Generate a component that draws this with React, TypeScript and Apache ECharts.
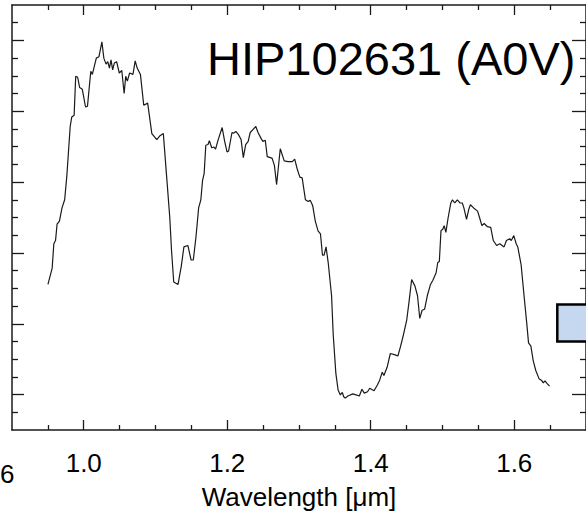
import React, { useEffect, useRef } from "react";
import * as echarts from "echarts";

const titleText = "HIP102631 (A0V)";
const xName = "Wavelength [μm]";
const prevPanelLabel = "6";
const xMajorTicks = [1.0, 1.2, 1.4, 1.6];
const xMinorTicks = [0.95, 1.05, 1.1, 1.15, 1.25, 1.3, 1.35, 1.45, 1.5, 1.55, 1.65];
const yMajorTicks = [0.2, 0.4, 0.6, 0.8, 1.0, 1.2];
const yMinorTicks = [0.15, 0.25, 0.3, 0.35, 0.45, 0.5, 0.55, 0.65, 0.7, 0.75, 0.85, 0.9, 0.95, 1.05, 1.1, 1.15, 1.25];

const wavelength = [
  0.9501, 0.956, 0.9583, 0.9607, 0.9628, 0.9661, 0.9697, 0.9734, 0.9765, 0.9811,
  0.9833, 0.9866, 0.9888, 0.9915, 0.9943, 0.998, 1.0025, 1.0052, 1.0098, 1.012,
  1.0175, 1.0212, 1.0253, 1.028, 1.0311, 1.0335, 1.0358, 1.038, 1.0403, 1.0426,
  1.0458, 1.0495, 1.053, 1.0563, 1.0585, 1.0608, 1.0639, 1.0686, 1.0717, 1.0745,
  1.079, 1.0836, 1.0891, 1.0949, 1.1018, 1.1063, 1.1109, 1.1154, 1.1199, 1.1223,
  1.1254, 1.1314, 1.1359, 1.1396, 1.1451, 1.1496, 1.1527, 1.1564, 1.1601, 1.1632,
  1.1656, 1.1678, 1.1701, 1.1732, 1.1751, 1.1783, 1.1814, 1.1837, 1.1874, 1.1929,
  1.1964, 1.1997, 1.2019, 1.2066, 1.2087, 1.212, 1.2156, 1.2193, 1.2224, 1.2257,
  1.2292, 1.232, 1.2361, 1.2398, 1.2429, 1.2475, 1.2497, 1.253, 1.2557, 1.2602,
  1.2626, 1.2657, 1.2688, 1.2739, 1.2794, 1.2848, 1.2907, 1.294, 1.2975, 1.3012,
  1.3044, 1.309, 1.3128, 1.3156, 1.319, 1.3227, 1.3265, 1.3299, 1.3327, 1.335,
  1.3377, 1.3408, 1.3454, 1.3477, 1.3514, 1.3545, 1.3576, 1.3604, 1.3623, 1.3645,
  1.3682, 1.375, 1.3795, 1.3841, 1.3877, 1.391, 1.3955, 1.3986, 1.4046, 1.4092,
  1.4123, 1.416, 1.4183, 1.4228, 1.4273, 1.4341, 1.4378, 1.441, 1.4456, 1.4501,
  1.4533, 1.457, 1.4615, 1.4652, 1.4683, 1.4716, 1.4751, 1.4788, 1.4833, 1.4866,
  1.4911, 1.4934, 1.4956, 1.4979, 1.5003, 1.5024, 1.5047, 1.5079, 1.5116, 1.5139,
  1.5171, 1.5207, 1.5243, 1.5276, 1.5298, 1.5335, 1.5366, 1.5389, 1.5434, 1.5489,
  1.5516, 1.5549, 1.5581, 1.5626, 1.5672, 1.5708, 1.5754, 1.5799, 1.5858, 1.5891,
  1.5936, 1.5959, 1.5994, 1.6027, 1.6049, 1.6096, 1.6141, 1.6172, 1.6199, 1.6232,
  1.6264, 1.63, 1.6345, 1.6382, 1.6404, 1.6428, 1.6459, 1.6492,
];

const flux = [
  0.511, 0.557, 0.626, 0.635, 0.681, 0.69, 0.727, 0.75, 0.819, 0.957,
  0.984, 0.989, 1.099, 1.096, 1.067, 1.062, 1.012, 1.014, 1.113, 1.104,
  1.15, 1.154, 1.196, 1.15, 1.133, 1.14, 1.122, 1.145, 1.117, 1.136,
  1.14, 1.108, 1.115, 1.05, 1.099, 1.085, 1.108, 1.104, 1.142, 1.122,
  1.104, 1.017, 1.023, 0.937, 0.92, 0.931, 0.937, 0.819, 0.7, 0.608,
  0.518, 0.511, 0.562, 0.617, 0.621, 0.58, 0.58, 0.645, 0.727, 0.75,
  0.805, 0.824, 0.904, 0.906, 0.917, 0.897, 0.899, 0.893, 0.92, 0.954,
  0.915, 0.885, 0.888, 0.94, 0.938, 0.943, 0.934, 0.92, 0.869, 0.906,
  0.915, 0.94, 0.949, 0.957, 0.94, 0.922, 0.915, 0.918, 0.872, 0.869,
  0.867, 0.847, 0.793, 0.894, 0.86, 0.858, 0.858, 0.865, 0.837, 0.814,
  0.812, 0.75, 0.745, 0.749, 0.734, 0.69, 0.662, 0.654, 0.594, 0.594,
  0.617, 0.571, 0.479, 0.369, 0.259, 0.213, 0.199, 0.206, 0.194, 0.19,
  0.196, 0.202, 0.199, 0.196, 0.215, 0.204, 0.208, 0.218, 0.211, 0.227,
  0.24, 0.263, 0.254, 0.277, 0.316, 0.312, 0.309, 0.332, 0.369, 0.41,
  0.461, 0.525, 0.507, 0.479, 0.415, 0.438, 0.441, 0.479, 0.511, 0.523,
  0.544, 0.573, 0.576, 0.663, 0.667, 0.677, 0.658, 0.7, 0.741, 0.75,
  0.741, 0.75, 0.741, 0.741, 0.727, 0.695, 0.723, 0.736, 0.727, 0.718,
  0.7, 0.677, 0.683, 0.674, 0.672, 0.635, 0.621, 0.626, 0.617, 0.635,
  0.64, 0.635, 0.649, 0.626, 0.617, 0.566, 0.47, 0.406, 0.346, 0.337,
  0.296, 0.268, 0.245, 0.24, 0.233, 0.239, 0.231, 0.224,
];

const FONT = "'Liberation Sans', Arial, Helvetica, sans-serif";
const INK = "#1a1a1a";

export default function App() {
  const ref = useRef<HTMLDivElement>(null);

  useEffect(() => {
    if (!ref.current) return;
    const chart = echarts.init(ref.current, undefined, { renderer: "svg" });

    const baseX = (position: string, ticks: number[], len: number, showLine: boolean, showLabel: boolean, withName: boolean) => ({
      type: "value",
      min: 0.9,
      max: 1.7,
      position,
      gridIndex: 0,
      splitLine: { show: false },
      axisLine: { show: showLine, onZero: false, lineStyle: { color: INK, width: 1.5 } },
      axisTick: { show: true, inside: true, length: len, customValues: ticks, lineStyle: { color: INK, width: 1.3 } },
      axisLabel: {
        show: showLabel,
        customValues: ticks,
        margin: 20,
        fontSize: 26,
        fontFamily: FONT,
        color: "#000",
        formatter: (v: number) => v.toFixed(1),
      },
      name: withName ? xName : "",
      nameLocation: "middle",
      nameGap: 54,
      nameTextStyle: { fontSize: 26, fontFamily: FONT, color: "#000" },
    });

    const baseY = (position: string, ticks: number[], len: number, showLine: boolean) => ({
      type: "value",
      min: 0.1,
      max: 1.3,
      position,
      gridIndex: 0,
      splitLine: { show: false },
      axisLine: { show: showLine, onZero: false, lineStyle: { color: INK, width: 1.5 } },
      axisTick: { show: true, inside: true, length: len, customValues: ticks, lineStyle: { color: INK, width: 1.3 } },
      axisLabel: { show: false },
    });

    chart.setOption({
      animation: false,
      backgroundColor: "#ffffff",
      grid: { left: 12, top: 5, width: 586, height: 436, containLabel: false },
      xAxis: [
        baseX("bottom", xMajorTicks, 10, true, true, true),
        baseX("bottom", xMinorTicks, 5, false, false, false),
        baseX("top", xMajorTicks, 10, true, false, false),
        baseX("top", xMinorTicks, 5, false, false, false),
      ],
      yAxis: [
        baseY("left", yMajorTicks, 12, true),
        baseY("left", yMinorTicks, 6, false),
        baseY("right", yMajorTicks, 14, true),
        baseY("right", yMinorTicks, 6, false),
      ],
      series: [
        {
          type: "line",
          xAxisIndex: 0,
          yAxisIndex: 0,
          data: wavelength.map((w, i) => [w, flux[i]]),
          showSymbol: false,
          symbol: "none",
          lineStyle: { color: INK, width: 1.2 },
          silent: true,
        },
      ],
      graphic: [
        {
          type: "text",
          x: 207,
          y: 58,
          style: {
            text: titleText,
            fontSize: 47,
            fontFamily: FONT,
            fill: "#000",
            textAlign: "left",
            verticalAlign: "middle",
          },
        },
        {
          type: "text",
          x: 0,
          y: 474,
          style: {
            text: prevPanelLabel,
            fontSize: 26,
            fontFamily: FONT,
            fill: "#000",
            textAlign: "left",
            verticalAlign: "middle",
          },
        },
        {
          type: "rect",
          shape: { x: 557.3, y: 304.5, width: 60, height: 37 },
          style: { fill: "#c6d8ef", stroke: "#000", lineWidth: 2.5 },
          z: 10,
        },
      ],
    });

    return () => chart.dispose();
  }, []);

  return (
    <div
      ref={ref}
      style={{ position: "fixed", left: 0, top: 0, width: 586, height: 515, background: "#fff" }}
    />
  );
}
